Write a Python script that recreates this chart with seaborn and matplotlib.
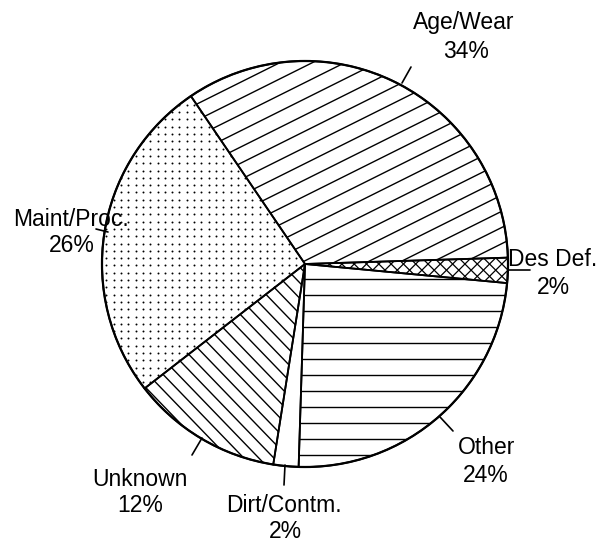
import numpy as np
import matplotlib
matplotlib.use("Agg")
import matplotlib.pyplot as plt
import seaborn as sns
from matplotlib.collections import LineCollection
from matplotlib.patches import Wedge, Circle

# ---- data ----
labels = ["Des Def.", "Age/Wear", "Maint/Proc.", "Unknown", "Dirt/Contm.", "Other"]
shares = [2, 34, 26, 12, 2, 24]
pct_labels = ["2%", "34%", "26%", "12%", "2%", "24%"]

sns.set_theme(style="white")
plt.rcParams['font.family'] = ['Liberation Sans', 'DejaVu Sans']

W, H = 602, 545
fig = plt.figure(figsize=(W / 100, H / 100), dpi=100)
ax = fig.add_axes([0, 0, 1, 1])
CX, CY, R = 305, 264, 203


def P(px, py):
    return ((px - CX) / R, (CY - py) / R)


wedges, _ = ax.pie(shares, startangle=-5.4, counterclock=True, radius=1,
                   colors=['white'] * len(shares),
                   wedgeprops=dict(edgecolor='none', linewidth=0, zorder=1))

ax.set_xlim(P(0, 0)[0], P(W, 0)[0])
ax.set_ylim(P(0, H)[1], P(0, 0)[1])
ax.set_aspect('auto')
ax.axis('off')


def hatch_lines(wedge, angle, spacing_px, lw=0.9, phase=0.0):
    a = np.deg2rad(angle)
    d = np.array([np.cos(a), np.sin(a)])
    n = np.array([-np.sin(a), np.cos(a)])
    s = spacing_px / R
    segs = []
    for t in np.arange(-1.2 + phase * s, 1.2, s):
        c = t * n
        segs.append([c - 1.3 * d, c + 1.3 * d])
    lc = LineCollection(segs, colors='black', linewidths=lw, zorder=2)
    ax.add_collection(lc)
    lc.set_clip_path(wedge)


def hatch_dots(wedge, spacing_px, size=2.0):
    s = spacing_px / R
    g = np.arange(-1.05, 1.05, s)
    xx, yy = np.meshgrid(g, g)
    sc = ax.scatter(xx.ravel(), yy.ravel(), s=size, c='black', linewidths=0, zorder=2)
    sc.set_clip_path(wedge)


# Des Def. : cross hatch
hatch_lines(wedges[0], 45, 8.7, lw=0.9)
hatch_lines(wedges[0], -45, 8.7, lw=0.9)
# Age/Wear : shallow diagonal
hatch_lines(wedges[1], 26.5, 14.5, lw=1.0)
# Maint/Proc. : dots
hatch_dots(wedges[2], 7.3)
# Unknown : back diagonal
hatch_lines(wedges[3], -46, 10.8, lw=1.0)
# Dirt/Contm. : blank
# Other : horizontal
hatch_lines(wedges[5], 0, 16.0, lw=1.0, phase=0.3)

for w in wedges:
    ax.add_patch(Wedge(w.center, w.r, w.theta1, w.theta2, fill=False,
                       edgecolor='black', linewidth=1.3, zorder=3))
ax.add_patch(Circle((0, 0), 1, fill=False, edgecolor='black', linewidth=1.6, zorder=4))

# labels (pixel centers)
name_pos = [(553, 259), (464, 23), (71, 219), (140, 479), (284, 505), (487, 448)]
pct_pos = [(553, 287), (466, 51), (72, 246), (140, 505), (285, 532), (486, 475)]
leaders = [((508, 270), (530, 270)), ((402, 83), (411, 67)), ((108, 232), (96, 229)),
           ((202, 438), (192, 455)), ((285, 465), (284, 485)), ((440, 417), (453, 431))]

for lab, pc, npos, ppos, (p0, p1) in zip(labels, pct_labels, name_pos, pct_pos, leaders):
    ax.text(*P(*npos), lab, ha='center', va='center', fontsize=16.5, color='black', zorder=5)
    ax.text(*P(*ppos), pc, ha='center', va='center', fontsize=16.5, color='black', zorder=5)
    x0, y0 = P(*p0)
    x1, y1 = P(*p1)
    ax.plot([x0, x1], [y0, y1], color='black', linewidth=1.2, zorder=4)

fig.savefig("out.png", dpi=100, facecolor='white')
